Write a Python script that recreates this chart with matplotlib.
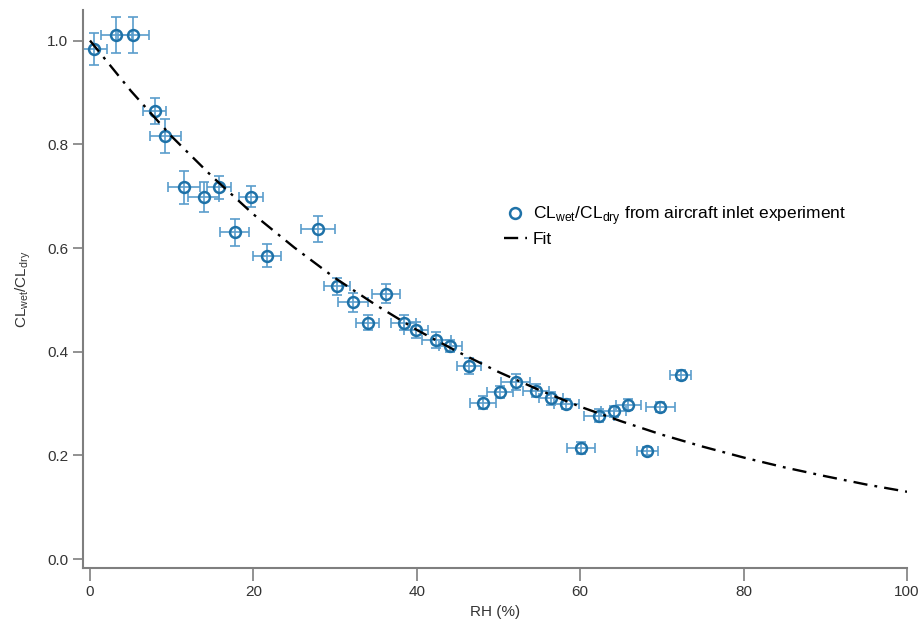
import numpy as np
import matplotlib
matplotlib.use("Agg")
import matplotlib.pyplot as plt

plt.rcParams['font.family'] = ['Liberation Sans', 'DejaVu Sans']

# measured points: RH (%) and CLwet/CLdry with their errors
rh = [0.5, 3.2, 5.3, 7.9, 9.2, 11.5, 13.9, 15.8, 19.7, 17.7, 21.7, 27.9,
      30.2, 32.2, 36.2, 34.0, 38.4, 39.9, 42.4, 44.1, 46.4, 48.1, 50.2,
      52.1, 54.6, 56.4, 58.3, 60.1, 62.3, 64.1, 65.9, 69.8, 68.2, 72.3]
ratio = [0.983, 1.011, 1.011, 0.865, 0.816, 0.717, 0.698, 0.717, 0.699,
         0.630, 0.585, 0.636, 0.526, 0.495, 0.512, 0.456, 0.456, 0.442,
         0.423, 0.411, 0.372, 0.302, 0.322, 0.342, 0.325, 0.310, 0.299,
         0.214, 0.277, 0.285, 0.298, 0.293, 0.209, 0.355]
rh_err = [1.6, 1.9, 1.9, 1.4, 1.9, 2.0, 1.9, 1.5, 1.5, 1.8, 1.7, 2.1,
          1.6, 1.8, 1.7, 1.4, 1.5, 1.5, 1.8, 1.4, 1.5, 1.6, 1.6, 1.8,
          1.6, 1.5, 1.5, 1.7, 1.8, 1.5, 1.5, 1.8, 1.3, 1.3]
ratio_err = [0.031, 0.035, 0.035, 0.025, 0.033, 0.032, 0.029, 0.022, 0.020,
             0.026, 0.022, 0.025, 0.016, 0.018, 0.018, 0.015, 0.015, 0.015,
             0.015, 0.012, 0.015, 0.012, 0.012, 0.015, 0.012, 0.012, 0.010,
             0.012, 0.012, 0.010, 0.010, 0.010, 0.008, 0.010]

# fit curve
fit_rh = [0, 5, 10, 15, 20, 25, 30, 35, 40, 45, 50, 55, 60, 65, 70, 75, 80, 85, 90, 95, 100]
fit_ratio = [1.0, 0.903, 0.815, 0.737, 0.665, 0.601, 0.542, 0.490, 0.442, 0.400,
             0.361, 0.326, 0.294, 0.266, 0.240, 0.217, 0.196, 0.177, 0.160, 0.144, 0.130]

fig = plt.figure(figsize=(9.23, 6.23), dpi=100)
ax = fig.add_axes([0.0899, 0.0883, 0.8928, 0.8957])

ax.errorbar(rh, ratio, xerr=rh_err, yerr=ratio_err, fmt='none',
            ecolor='#5a9dcc', elinewidth=1.2, capsize=3.5, capthick=1.2, zorder=2)
ax.plot(rh, ratio, 'o', mfc='none', mec='#1f72a8', mew=1.8, ms=7.8,
        zorder=3, label=r'CL$_{\mathregular{wet}}$/CL$_{\mathregular{dry}}$ from aircraft inlet experiment')
ax.plot(fit_rh, fit_ratio, color='black', lw=1.7, linestyle=(0, (6, 3, 1.2, 3)),
        zorder=4, label='Fit')

ax.set_xlim(-0.86, 100)
ax.set_ylim(-0.017, 1.059)
ax.set_xticks([0, 20, 40, 60, 80, 100])
ax.set_yticks([0.0, 0.2, 0.4, 0.6, 0.8, 1.0])
ax.set_yticklabels(['0.0', '0.2', '0.4', '0.6', '0.8', '1.0'])

for s in ['top', 'right']:
    ax.spines[s].set_visible(False)
for s in ['left', 'bottom']:
    ax.spines[s].set_color('#7f7f7f')
    ax.spines[s].set_linewidth(1.5)
ax.tick_params(axis='both', colors='#333333', labelsize=11, width=1.2)
ax.tick_params(axis='x', length=9, color='#7f7f7f')
ax.tick_params(axis='y', length=7, color='#7f7f7f')

ax.set_xlabel('RH (%)', fontsize=11, color='#333333', labelpad=4)
ax.set_ylabel(r'CL$_{\mathregular{wet}}$/CL$_{\mathregular{dry}}$', fontsize=11,
              color='#333333', labelpad=10)

ax.legend(loc='upper left', bbox_to_anchor=(0.492, 0.68), frameon=False,
          fontsize=12.5, handlelength=1.32, handletextpad=0.35, labelspacing=0.3)

fig.savefig('out.png', dpi=100)
